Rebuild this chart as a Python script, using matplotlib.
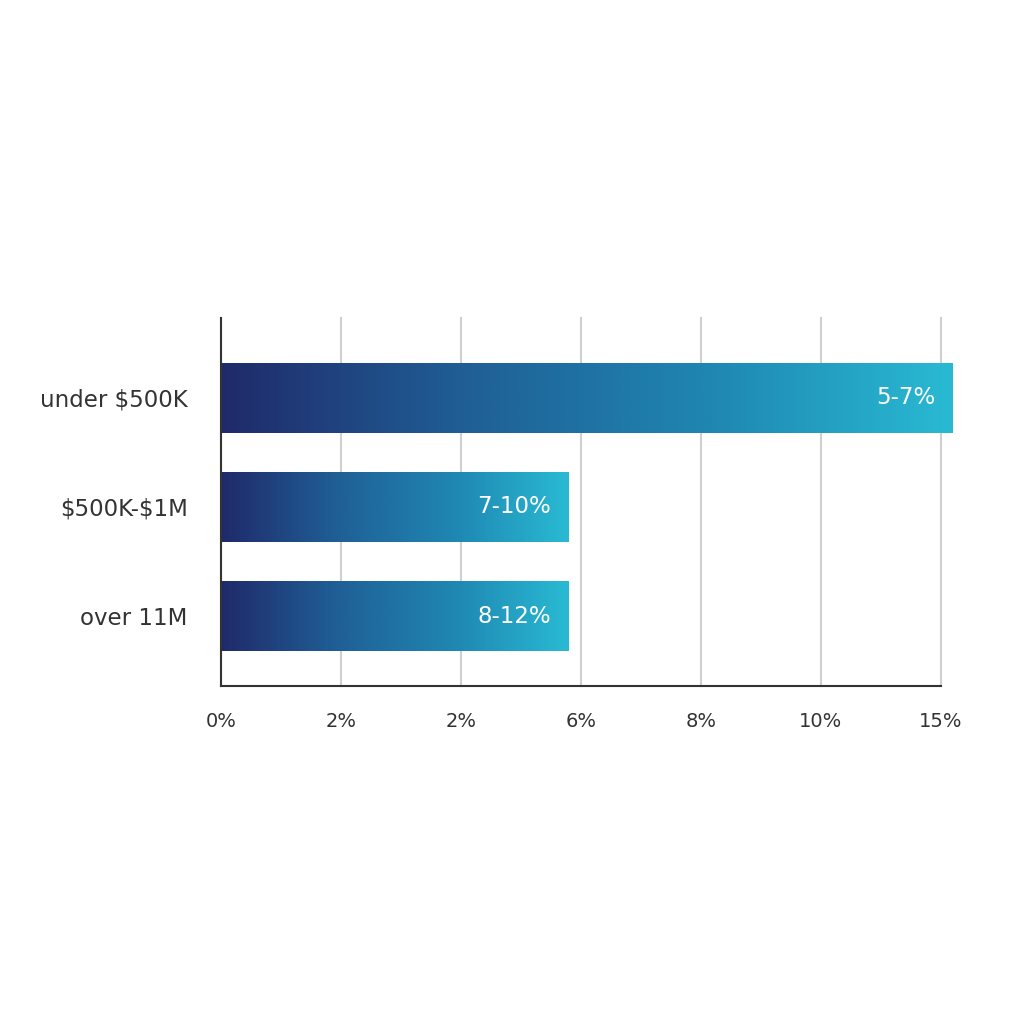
import matplotlib
matplotlib.use('Agg')
import matplotlib.pyplot as plt
import numpy as np
from matplotlib.colors import LinearSegmentedColormap

categories = ["under \\$500K", "\\$500K-\\$1M", "over 11M"]
values = [12.2, 5.8, 5.8]
bar_labels = ["5-7%", "7-10%", "8-12%"]
tick_pos = [0, 2, 4, 6, 8, 10, 12]
tick_labels = ["0%", "2%", "2%", "6%", "8%", "10%", "15%"]

cmap = LinearSegmentedColormap.from_list("grad", ["#202a6a", "#1f5f96", "#1f86b2", "#29bad3"])

fig = plt.figure(figsize=(10.24, 10.24), dpi=100)
ax = fig.add_axes([0.2158, 0.3301, 0.7031, 0.3594])

ax.set_xlim(0, 12)
ax.set_ylim(2.64, -0.73)

grad = np.linspace(0, 1, 256).reshape(1, -1)
h = 0.64
for i, (v, lab) in enumerate(zip(values, bar_labels)):
    im = ax.imshow(grad, cmap=cmap, aspect="auto",
                   extent=[0, v, i + h / 2, i - h / 2], zorder=2, clip_on=False)
    ax.text(v - 0.3, i, lab, color="white", fontsize=16.5, ha="right", va="center", zorder=3)

ax.set_yticks(range(len(categories)))
ax.set_yticklabels(categories, fontsize=16.5, color="#333333")
ax.set_xticks(tick_pos)
ax.set_xticklabels(tick_labels, fontsize=14, color="#333333")
ax.tick_params(length=0)
ax.tick_params(axis="y", pad=24)
ax.tick_params(axis="x", pad=19)

ax.grid(axis="x", color="#d0d0d0", linewidth=1.5, zorder=0)
for gl in ax.get_xgridlines():
    gl.set_clip_on(False)
ax.set_axisbelow(True)
for s in ["top", "right"]:
    ax.spines[s].set_visible(False)
for s in ["left", "bottom"]:
    ax.spines[s].set_color("#333333")
    ax.spines[s].set_linewidth(1.5)

fig.savefig("out.png", dpi=100, facecolor="white")
